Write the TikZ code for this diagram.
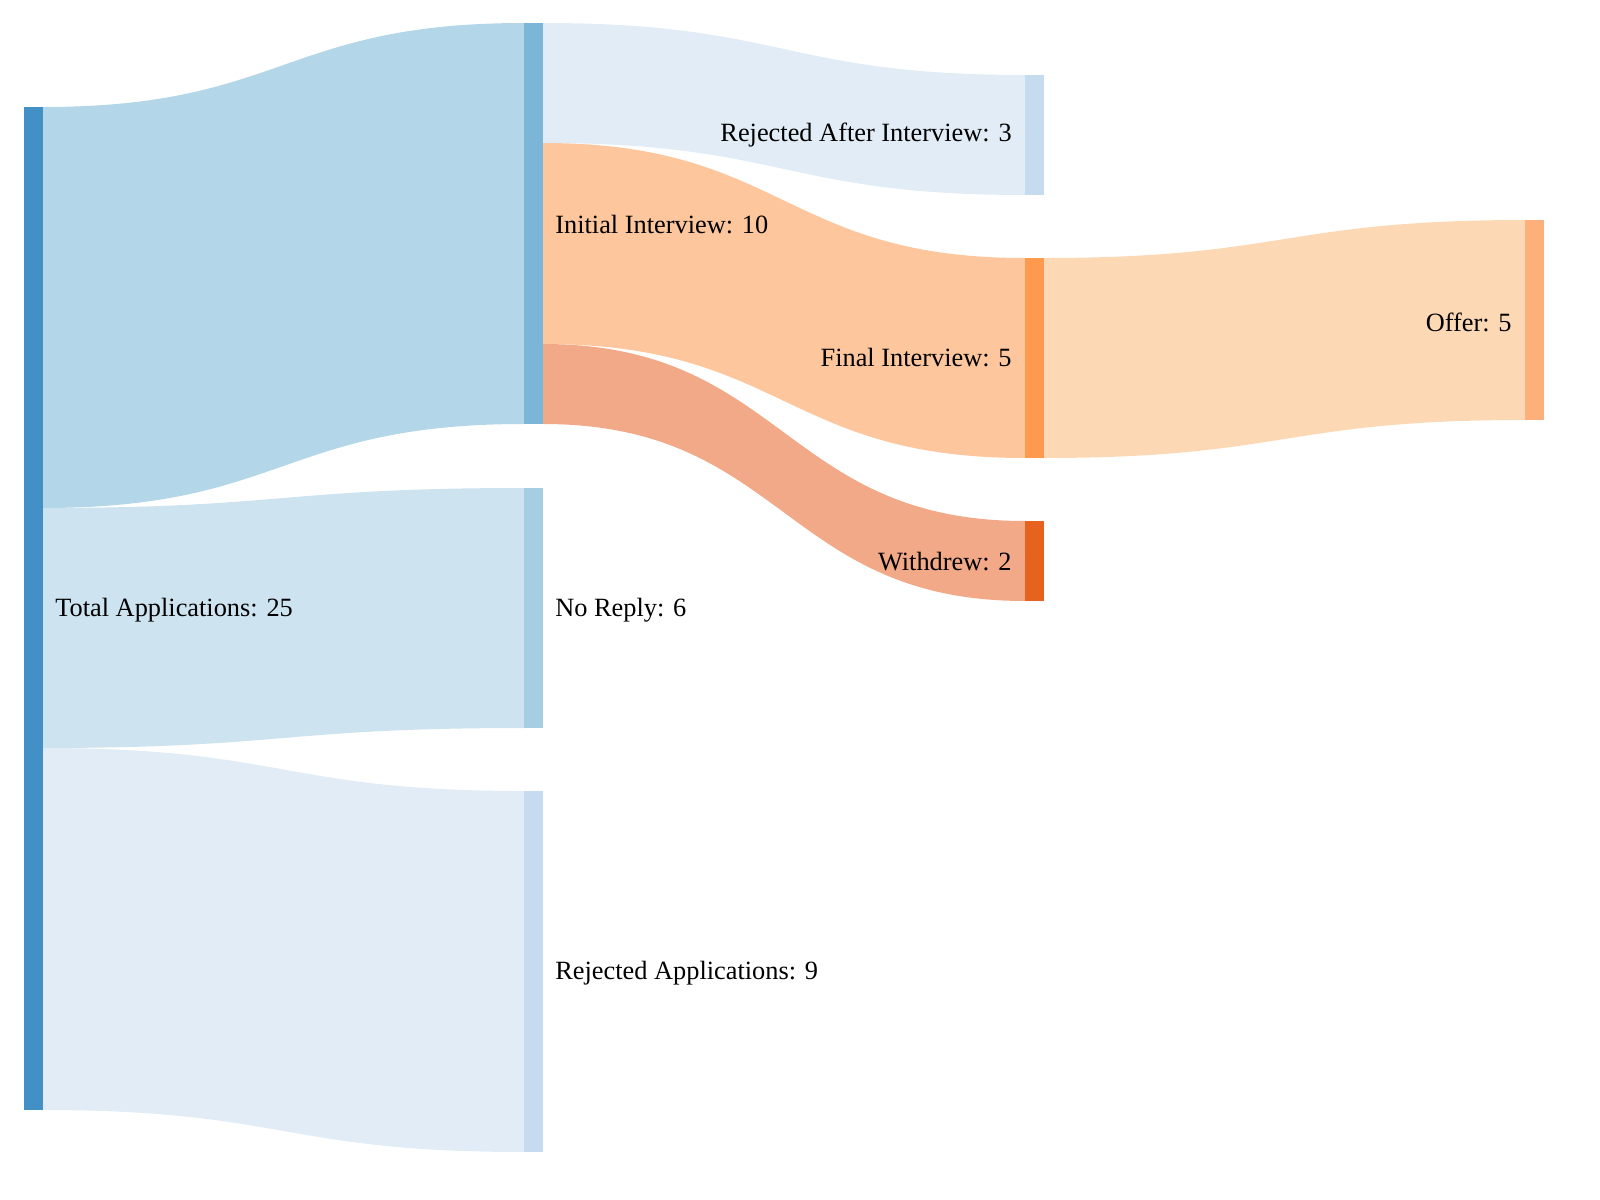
\documentclass[tikz,border=0pt]{standalone}
\usepackage{fontspec}
\setmainfont{Liberation Serif}
\begin{document}
\begin{tikzpicture}[x=0.02cm,y=-0.02cm,
  bar/.style={inner sep=0pt,minimum width=0.38cm,anchor=north west},
  lab/.style={font=\fontsize{15}{18}\selectfont,inner sep=0pt}]
\useasboundingbox (0,0) rectangle (1600,1200);
\definecolor{cT}{HTML}{4390C6}\definecolor{cI}{HTML}{7BB6D9}
\definecolor{cN}{HTML}{A6CEE3}\definecolor{cR}{HTML}{C6DBEF}
\definecolor{cF}{HTML}{FD9A4E}\definecolor{cW}{HTML}{E6621F}
\definecolor{cO}{HTML}{FDB07A}
\definecolor{l1}{HTML}{B3D6E8}\definecolor{l2}{HTML}{CDE3F0}
\definecolor{l3}{HTML}{E1ECF6}\definecolor{l4}{HTML}{FDC69C}
\definecolor{l5}{HTML}{F2A987}\definecolor{l6}{HTML}{FDD8B5}
\newcommand{\lnk}[7]{\fill[#7] (#1,#2) .. controls ({(#1+#4)/2},#2) and ({(#1+#4)/2},#5) .. (#4,#5) -- (#4,#6) .. controls ({(#1+#4)/2},#6) and ({(#1+#4)/2},#3) .. (#1,#3) -- cycle;}
\lnk{43}{107}{508}{524}{23}{424}{l1}
\lnk{43}{508}{748}{524}{488}{728}{l2}
\lnk{43}{748}{1110}{524}{791}{1152}{l3}
\lnk{543}{23}{143}{1025}{75}{195}{l3}
\lnk{543}{143}{344}{1025}{258}{458}{l4}
\lnk{543}{344}{424}{1025}{521}{601}{l5}
\lnk{1044}{258}{458}{1525}{220}{420}{l6}
\node[bar,fill=cT,minimum height=20.06cm] (tot) at (24,107) {};
\node[bar,fill=cI,minimum height=8.02cm] (ini) at (524,23) {};
\node[bar,fill=cN,minimum height=4.8cm] (nor) at (524,488) {};
\node[bar,fill=cR,minimum height=7.22cm] (rja) at (524,791) {};
\node[bar,fill=cR,minimum height=2.4cm] (rai) at (1025,75) {};
\node[bar,fill=cF,minimum height=4cm] (fin) at (1025,258) {};
\node[bar,fill=cW,minimum height=1.6cm] (wit) at (1025,521) {};
\node[bar,fill=cO,minimum height=4cm] (off) at (1525,220) {};
\node[lab,anchor=west] (tl) at (55,610) {Total Applications: 25};
\node[lab,anchor=west] (il) at (555,225) {Initial Interview: 10};
\node[lab,anchor=west] (nl) at (555,610) {No Reply: 6};
\node[lab,anchor=west] (rl) at (555,973) {Rejected Applications: 9};
\node[lab,anchor=east] (al) at (1012,135) {Rejected After Interview: 3};
\node[lab,anchor=east] (fl) at (1012,358) {Final Interview: 5};
\node[lab,anchor=east] (wl) at (1012,562) {Withdrew: 2};
\node[lab,anchor=east] (ol) at (1512,322) {Offer: 5};
\end{tikzpicture}
\end{document}
